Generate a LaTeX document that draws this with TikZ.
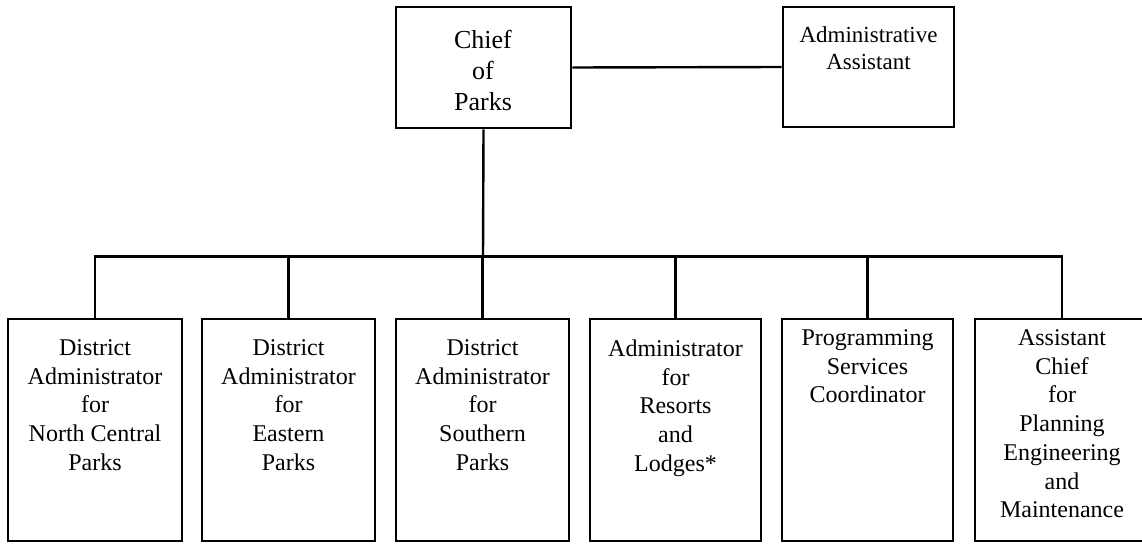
\documentclass[tikz,border=0pt]{standalone}
\usepackage{fontspec}
\setmainfont{Liberation Serif}
\begin{document}
\begin{tikzpicture}[x=1pt,y=-1pt,
  box/.style={draw=black, line width=2.8pt, rectangle, inner sep=0pt},
  link/.style={draw=black, line width=2.4pt},
  txt/.style={align=center, inner sep=0pt, anchor=north, text=black},
  bigtxt/.style={txt, font=\fontsize{26}{31}\selectfont},
  midtxt/.style={txt, font=\fontsize{23}{26.5}\selectfont},
  unittxt/.style={txt, font=\fontsize{24}{28.7}\selectfont}]
\useasboundingbox (0,0) rectangle (1142,543);
\clip (0,0) rectangle (1142,543);

% top level
\node[box, minimum width=175pt, minimum height=121pt] (chief) at (483.5,67.5) {};
\node[box, minimum width=171pt, minimum height=120pt] (assist) at (868.5,67) {};
\node[bigtxt] (chieft) at (483,30) {Chief\\of\\Parks};
\node[midtxt] (assistt) at (868.5,26.5) {Administrative\\Assistant};

% units
\node[box, minimum width=174pt, minimum height=222pt] (b1) at (95,430) {};
\node[box, minimum width=173pt, minimum height=222pt] (b2) at (288.5,430) {};
\node[box, minimum width=173pt, minimum height=222pt] (b3) at (482.5,430) {};
\node[box, minimum width=171pt, minimum height=222pt] (b4) at (675.5,430) {};
\node[box, minimum width=171pt, minimum height=222pt] (b5) at (867.5,430) {};
\node[box, minimum width=174pt, minimum height=222pt] (b6) at (1062,430) {};

\node[unittxt] (t1) at (b1.north |- 0,339.5) {District\\Administrator\\for\\North Central\\Parks};
\node[unittxt] (t2) at (b2.north |- 0,339.5) {District\\Administrator\\for\\Eastern\\Parks};
\node[unittxt] (t3) at (b3.north |- 0,339.5) {District\\Administrator\\for\\Southern\\Parks};
\node[unittxt] (t4) at (b4.north |- 0,339.5) {Administrator\\for\\Resorts\\and\\Lodges*};
\node[unittxt] (t5) at (b5.north |- 0,329.5) {Programming\\Services\\Coordinator};
\node[unittxt] (t6) at (b6.north |- 0,329.5) {Assistant\\Chief\\for\\Planning\\Engineering\\and\\Maintenance};

% connectors
\coordinate (bus) at (483,256.5);
\draw[link] (chief.east) -- (assist.west);
\draw[link] (chief.south) -- (bus);
\draw[link] (b1.north) -- (b1.north |- bus) -- (b6.north |- bus) -- (b6.north);
\foreach \b in {b2,b3,b4,b5}
  \draw[link] (\b.north) -- (\b.north |- bus);
\end{tikzpicture}
\end{document}
